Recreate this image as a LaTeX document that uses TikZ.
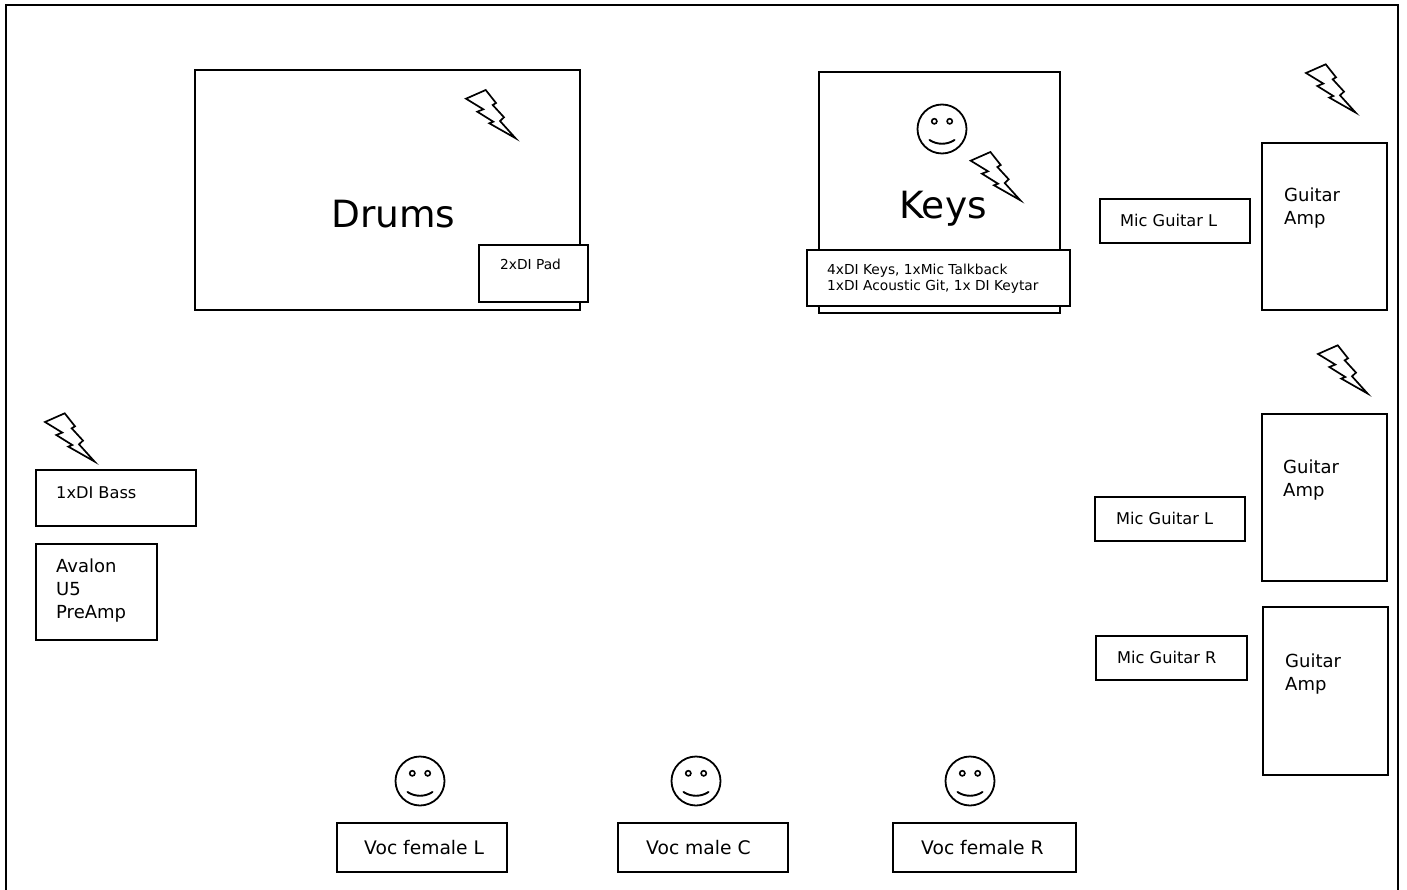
\documentclass[tikz,border=0pt]{standalone}
\usepackage{fontspec}
\setmainfont{DejaVu Sans}
\usepackage{tikz}
\tikzset{
    bolt/.pic={\draw[line width=1.7pt, line join=miter, fill=white] (0,0) -- (19.7,-8.7) -- (30,4.3) -- (26.7,6.3) -- (38,18.6) -- (34,22.3) -- (49.5,39.5) -- (23.3,24.6) -- (27.3,23) -- (11.3,13) -- (17.3,10.6) -- cycle;},
    smiley/.pic={
        \draw[line width=1.8pt] (0,0) circle (24.5pt);
        \draw[line width=1.6pt] (-7.7,-7.7) circle (2.6pt);
        \draw[line width=1.6pt] (7.7,-7.7) circle (2.6pt);
        \draw[line width=1.9pt, line cap=round] (-12.5,11) .. controls (-5,16) and (5,16) .. (12.5,11);
    }
}
\begin{document}
\begin{tikzpicture}[x=1pt, y=-1pt,
    box/.style={draw=black, line width=2pt, fill=white, anchor=north west, inner sep=0pt, outer sep=0pt},
    bigtext/.style={anchor=base west, inner sep=0pt, font=\fontsize{37.5}{40}\selectfont},
    midtext/.style={anchor=base west, inner sep=0pt, align=left, font=\fontsize{18}{23}\selectfont},
    voctext/.style={anchor=base west, inner sep=0pt, font=\fontsize{18.7}{23}\selectfont},
    mictext/.style={anchor=base west, inner sep=0pt, font=\fontsize{16.2}{20}\selectfont},
    smalltext/.style={anchor=base west, inner sep=0pt, align=left, font=\fontsize{13.75}{15.5}\selectfont}]

    \useasboundingbox (0,0) rectangle (1407,890);
    \clip (0,0) rectangle (1407,890);

    %Frame
    \node[box, fill=none, minimum width=1392pt, minimum height=905pt](frame) at (6,5) {};

    %Drums
    \node[box, minimum width=385pt, minimum height=240pt](drums) at (195,70) {};
    \node[box, minimum width=109pt, minimum height=57pt](pad) at (479,245) {};
    \node[bigtext](drums_text) at (331,228) {Drums};
    \node[smalltext](pad_text) at (500,270) {2xDI Pad};
    \pic at (466,98.7) {bolt};

    %Keys
    \node[box, minimum width=241pt, minimum height=241pt](keys) at (819,72) {};
    \node[box, minimum width=263pt, minimum height=56pt](keys_di) at (807,250) {};
    \node[bigtext](keys_text) at (899,219) {Keys};
    \node[smalltext](keys_di_text) at (827,290.5) {4xDI Keys, 1xMic Talkback\\1xDI Acoustic Git, 1x DI Keytar};
    \pic at (942,129) {smiley};
    \pic at (970.7,160.7) {bolt};

    %Guitars
    \node[box, minimum width=150pt, minimum height=44pt](mic_one) at (1100,199) {};
    \node[mictext](mic_one_text) at (1120,227) {Mic Guitar L};
    \node[box, minimum width=125pt, minimum height=167pt](amp_one) at (1262,143) {};
    \node[midtext](amp_one_text) at (1284,225) {Guitar\\Amp};
    \pic at (1306,73) {bolt};

    \node[box, minimum width=150pt, minimum height=44pt](mic_two) at (1095,497) {};
    \node[mictext](mic_two_text) at (1116,524) {Mic Guitar L};
    \node[box, minimum width=125pt, minimum height=167pt](amp_two) at (1262,414) {};
    \node[midtext](amp_two_text) at (1283,496) {Guitar\\Amp};
    \pic at (1318,354) {bolt};

    \node[box, minimum width=151pt, minimum height=44pt](mic_three) at (1096,636) {};
    \node[mictext](mic_three_text) at (1117,663) {Mic Guitar R};
    \node[box, minimum width=125pt, minimum height=168pt](amp_three) at (1263,607) {};
    \node[midtext](amp_three_text) at (1285,690) {Guitar\\Amp};

    %Bass
    \node[box, minimum width=160pt, minimum height=56pt](bass) at (36,470) {};
    \node[mictext](bass_text) at (56,498) {1xDI Bass};
    \node[box, minimum width=121pt, minimum height=96pt](avalon) at (36,544) {};
    \node[midtext](avalon_text) at (56,618) {Avalon\\U5\\PreAmp};
    \pic at (45,422) {bolt};

    %Vocals
    \node[box, minimum width=170pt, minimum height=49pt](voc_l) at (337,823) {};
    \node[voctext](voc_l_text) at (364,854) {Voc female L};
    \pic at (420,781) {smiley};

    \node[box, minimum width=170pt, minimum height=49pt](voc_c) at (618,823) {};
    \node[voctext](voc_c_text) at (646,854) {Voc male C};
    \pic at (696,781) {smiley};

    \node[box, minimum width=183pt, minimum height=49pt](voc_r) at (893,823) {};
    \node[voctext](voc_r_text) at (921,854) {Voc female R};
    \pic at (970,781) {smiley};

\end{tikzpicture}
\end{document}
